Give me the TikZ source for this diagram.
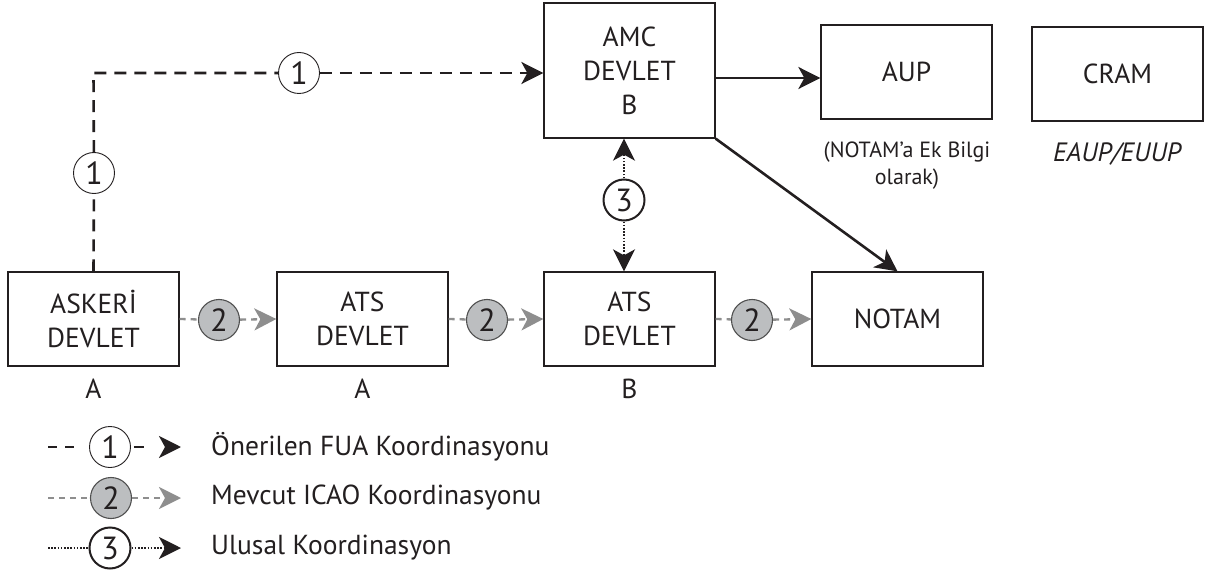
\documentclass[tikz,border=0pt]{standalone}
\usepackage{fontspec}
\setmainfont{PT Sans}
\usetikzlibrary{arrows.meta}
\definecolor{ink}{HTML}{231F20}
\definecolor{linegray}{HTML}{8E8E8E}
\definecolor{discgray}{HTML}{BCBEC0}
\definecolor{discrim}{HTML}{505050}

\begin{document}
\begin{tikzpicture}[x=1pt,y=-1pt,
  box/.style={draw=ink, line width=1.3pt, minimum width=171pt, minimum height=94pt,
    inner sep=0pt, align=center, text=ink, font=\fontsize{27.5}{34}\selectfont},
  tag/.style={text=ink, inner sep=0pt, font=\fontsize{27.5}{30}\selectfont},
  note/.style={text=ink, inner sep=0pt, align=center, font=\fontsize{22}{27}\selectfont},
  legtext/.style={text=ink, inner sep=0pt, anchor=west, font=\fontsize{27.5}{30}\selectfont},
  disc/.style={circle, minimum size=41pt, inner sep=0pt, text=ink, font=\fontsize{32}{32}\selectfont},
  discone/.style={disc, draw=ink, line width=0.9pt, fill=white},
  disctwo/.style={disc, draw=discrim, line width=1.1pt, fill=discgray},
  discthree/.style={disc, draw=ink, line width=2pt, fill=white},
  tipblack/.style={-{Stealth[length=22pt,width=22pt,inset=6pt]}},
  tipgray/.style={-{Stealth[length=22pt,width=22pt,inset=6pt,color=linegray]}},
  fualine/.style={draw=ink, line width=2.6pt, dash pattern=on 12pt off 8pt},
  icaoline/.style={draw=linegray, line width=2.3pt, dash pattern=on 6pt off 5pt},
  natline/.style={draw=ink, line width=2.2pt, dash pattern=on 1.6pt off 1.6pt},
  solidline/.style={draw=ink, line width=2.6pt},
]
\useasboundingbox (0,0) rectangle (1212,580);

% boxes
\node[box] (askeri) at (93.5,319) {ASKERİ\\DEVLET};
\node[box] (atsa) at (362.5,319) {ATS\\DEVLET};
\node[box] (atsb) at (629.5,319) {ATS\\DEVLET};
\node[box] (notam) at (897.5,319) {NOTAM};
\node[box, minimum height=135pt] (amc) at (629.5,70.5) {AMC\\DEVLET\\B};
\node[box] (aup) at (906.5,72) {AUP};
\node[box] (cram) at (1117.5,74) {CRAM};

% captions
\node[tag] (askerilbl) at (93.5,389) {A};
\node[tag] (atsalbl) at (362.5,389) {A};
\node[tag] (atsblbl) at (629.5,389) {B};
\node[note] (aupnote) at (907,166) {(NOTAM’a Ek Bilgi\\olarak)};
\node[note, font=\fontsize{26.5}{27}\selectfont\itshape] (cramnote) at (1117,154) {EAUP/EUUP};

% helper coordinates
\coordinate (fuarow) at (0,73);
\coordinate (auprow) at (0,78);
\coordinate (natcol) at (624,0);
\coordinate (corner) at (askeri.north |- fuarow);

% numbered discs on the connectors
\node[discone] (c1a) at (94,173) {1};
\node[discone] (c1b) at (299,73) {1};
\node[discthree] (c3) at (624,200) {3};
\node[disctwo] (c2a) at (219,320) {2};
\node[disctwo] (c2b) at (487,320) {2};
\node[disctwo] (c2c) at (752,320) {2};

% proposed FUA coordination
\draw[fualine] (askeri.north) -- (c1a);
\draw[fualine] (c1a) -- (corner) -- (c1b);
\draw[fualine, tipblack] (c1b) -- (amc.west |- fuarow);

% existing ICAO coordination
\draw[icaoline] (askeri.east) -- (c2a);
\draw[icaoline, tipgray] (c2a) -- (atsa.west);
\draw[icaoline] (atsa.east) -- (c2b);
\draw[icaoline, tipgray] (c2b) -- (atsb.west);
\draw[icaoline] (atsb.east) -- (c2c);
\draw[icaoline, tipgray] (c2c) -- (notam.west);

% national coordination
\draw[natline, tipblack] (c3) -- (amc.south -| natcol);
\draw[natline, tipblack] (c3) -- (atsb.north -| natcol);

% AMC outputs
\draw[solidline, tipblack] (amc.east |- auprow) -- (aup.west |- auprow);
\draw[solidline, tipblack] (amc.south east) -- (notam.north);

% legend
\coordinate (l1s) at (48,447);
\coordinate (l1e) at (76,447);
\coordinate (l1t) at (181,447);
\node[discone] (l1c) at (110,447) {1};
\draw[draw=ink, line width=2.6pt, dash pattern=on 9pt off 8pt] (l1s) -- (l1e);
\draw[draw=ink, line width=2.6pt, dash pattern=on 0pt off 3pt on 10pt off 60pt, tipblack] (l1c) -- (l1t);
\node[legtext] (l1txt) at (211,447) {Önerilen FUA Koordinasyonu};

\coordinate (l2s) at (48,498);
\coordinate (l2t) at (181,498);
\node[disctwo] (l2c) at (111,498) {2};
\draw[icaoline] (l2s) -- (l2c);
\draw[icaoline, tipgray] (l2c) -- (l2t);
\node[legtext] (l2txt) at (211,498) {Mevcut ICAO Koordinasyonu};

\coordinate (l3s) at (48,548);
\coordinate (l3t) at (181,548);
\node[discthree] (l3c) at (110,548) {3};
\draw[natline] (l3s) -- (l3c);
\draw[natline, tipblack] (l3c) -- (l3t);
\node[legtext] (l3txt) at (211,548) {Ulusal Koordinasyon};
\end{tikzpicture}
\end{document}
